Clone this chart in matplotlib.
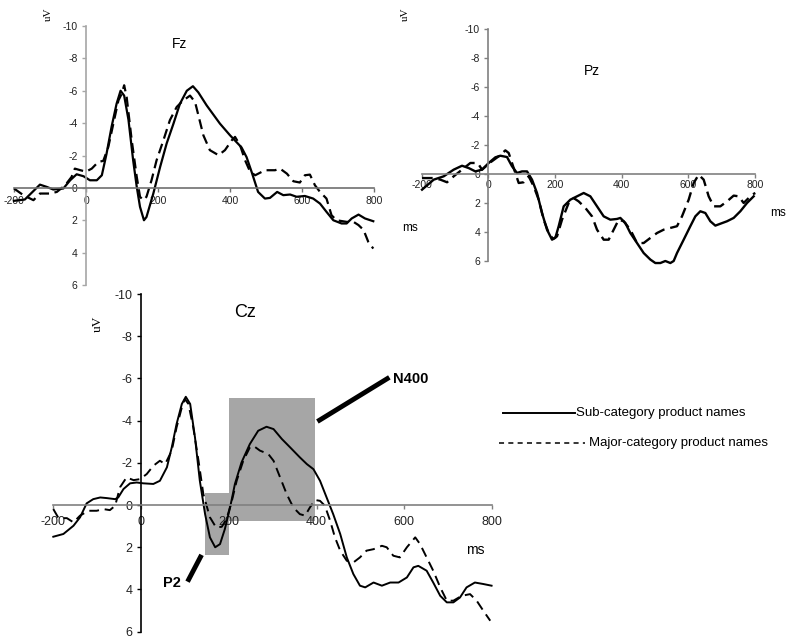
import matplotlib
matplotlib.use("Agg")
import matplotlib.pyplot as plt
from matplotlib.patches import Rectangle
from matplotlib.lines import Line2D

plt.rcParams['font.family'] = ['Liberation Sans', 'DejaVu Sans']

# ---- data (ms, uV) ----
fz_t_sub = [-200, -170, -128, -109, -91, -63, -44, -26, -7, 11, 30, 44, 57, 71, 85, 96, 106, 118, 131, 141,
            150, 161, 168, 187, 206, 224, 243, 261, 280, 297, 312, 335, 372, 400, 432, 446, 460, 478, 497, 511,
            531, 548, 567, 585, 608, 631, 650, 668, 687, 710, 724, 738, 757, 775, 798]
fz_sub = [0.8, 0.72, -0.2, -0.06, 0.1, 0.04, -0.47, -0.84, -0.72, -0.47, -0.47, -0.78, -2.1, -3.77, -5.2, -6.0,
          -5.7, -4.2, -1.7, -0.06, 1.17, 2.0, 1.8, 0.35, -1.3, -2.74, -3.97, -5.2, -6.0, -6.28, -5.9, -5.1, -3.97,
          -3.25, -2.5, -1.9, -0.99, 0.25, 0.66, 0.62, 0.25, 0.45, 0.41, 0.55, 0.5, 0.66, 0.97, 1.48, 2.0, 2.2, 2.2,
          1.89, 1.65, 1.89, 2.06]
fz_t_major = [-200, -174, -146, -128, -100, -81, -58, -40, -31, -17, 0, 16, 34, 48, 62, 76, 90, 99, 106, 113,
              127, 141, 150, 159, 168, 182, 196, 215, 233, 252, 270, 289, 303, 326, 344, 368, 386, 405, 414, 428,
              442, 456, 470, 497, 525, 539, 558, 576, 594, 608, 622, 636, 650, 668, 682, 696, 724, 743, 757, 771,
              784, 798]
fz_major = [0.04, 0.45, 0.76, 0.35, 0.35, 0.25, -0.16, -0.68, -1.19, -1.1, -1.0, -1.19, -1.6, -1.67, -2.53,
            -3.97, -5.4, -5.8, -6.34, -5.6, -2.94, -0.68, 0.55, 0.76, 0.55, -0.47, -1.7, -2.94, -4.18, -5.0, -5.4,
            -5.7, -5.3, -3.25, -2.33, -2.02, -2.33, -2.94, -3.15, -2.63, -1.7, -0.99, -0.78, -1.09, -1.09, -1.19,
            -0.88, -0.41, -0.33, -0.78, -0.82, -0.16, 0.25, 0.66, 1.69, 2.0, 2.1, 2.1, 2.3, 2.6, 3.33, 3.75]

pz_t_sub = [-199, -164, -134, -104, -79, -59, -39, -19, 1, 21, 36, 56, 71, 86, 101, 116, 131, 146, 161, 176,
            191, 201, 211, 226, 246, 266, 286, 306, 326, 346, 366, 386, 396, 411, 426, 446, 466, 486, 501, 516,
            531, 546, 556, 566, 586, 606, 621, 636, 651, 666, 681, 696, 716, 736, 756, 776, 796]
pz_sub = [1.08, 0.39, 0.16, -0.3, -0.57, -0.41, -0.18, -0.3, -0.76, -1.15, -1.26, -1.17, -0.53, -0.07, -0.18,
          -0.18, 0.39, 1.31, 2.69, 3.84, 4.53, 4.4, 3.6, 2.23, 1.77, 1.54, 1.31, 1.54, 2.23, 2.92, 3.15, 3.1, 3.03,
          3.38, 4.07, 4.76, 5.45, 5.9, 6.14, 6.14, 6.0, 6.14, 6.0, 5.45, 4.53, 3.6, 2.92, 2.57, 2.69, 3.26, 3.56,
          3.43, 3.26, 3.03, 2.57, 2.0, 1.54]
pz_t_major = [-199, -164, -144, -124, -104, -79, -54, -32, -19, 6, 31, 51, 61, 76, 91, 106, 121, 136, 151, 166,
              181, 194, 206, 221, 241, 256, 271, 291, 311, 326, 346, 361, 376, 391, 406, 426, 446, 466, 486, 506,
              526, 546, 566, 581, 601, 616, 631, 646, 661, 676, 696, 716, 736, 751, 766, 776, 791, 801]
pz_major = [0.28, 0.28, 0.39, 0.57, 0.16, -0.3, -0.76, -0.76, -0.3, -0.8, -1.22, -1.63, -1.45, -0.41, 0.62,
            0.57, 0.16, 0.85, 1.77, 3.15, 4.07, 4.48, 4.3, 3.15, 2.0, 1.66, 1.89, 2.34, 2.92, 3.84, 4.53, 4.53,
            3.84, 3.15, 3.26, 3.84, 4.76, 4.76, 4.41, 4.07, 3.84, 3.72, 3.6, 2.92, 1.77, 0.62, 0.05, 0.39, 1.54,
            2.23, 2.23, 1.89, 1.49, 1.54, 2.0, 1.77, 1.43, 1.31]

cz_t_sub = [-200, -177, -154, -139, -124, -109, -93, -78, -59, -52, -40, -25, -10, 5, 28, 43, 59, 70, 81, 93,
            102, 112, 123, 134, 146, 157, 169, 180, 191, 203, 214, 229, 248, 267, 286, 302, 321, 340, 362, 378,
            393, 408, 423, 438, 454, 469, 484, 499, 511, 530, 549, 568, 587, 606, 621, 632, 651, 666, 682, 697,
            712, 727, 742, 761, 780, 799]
cz_sub = [1.5, 1.37, 0.98, 0.58, -0.08, -0.28, -0.36, -0.33, -0.28, -0.36, -0.76, -1.03, -1.07, -1.03, -1.0,
          -1.15, -1.79, -2.73, -3.84, -4.79, -5.13, -4.79, -3.2, -1.15, 0.43, 1.53, 2.0, 1.85, 1.14, 0.11, -1.0,
          -2.02, -2.89, -3.52, -3.71, -3.6, -3.13, -2.73, -2.26, -1.94, -1.7, -1.15, -0.36, 0.43, 1.37, 2.48, 3.27,
          3.82, 3.9, 3.67, 3.82, 3.67, 3.67, 3.43, 2.95, 2.88, 3.11, 3.67, 4.3, 4.61, 4.61, 4.38, 3.9, 3.67, 3.74,
          3.82]
cz_t_major = [-200, -188, -169, -154, -139, -120, -101, -86, -71, -59, -48, -33, -17, -2, 13, 28, 43, 55, 70, 81,
              93, 100, 108, 119, 131, 142, 157, 171, 184, 195, 207, 218, 233, 248, 256, 271, 290, 302, 317, 332,
              347, 362, 374, 385, 397, 408, 419, 431, 442, 454, 469, 484, 499, 514, 530, 549, 560, 575, 590, 606,
              625, 636, 651, 666, 682, 697, 712, 731, 750, 765, 780, 796]
cz_major = [0.19, 0.62, 0.62, 0.82, 0.5, 0.27, 0.27, 0.19, 0.24, 0.03, -0.84, -1.31, -1.18, -1.23, -1.47, -1.86,
            -2.1, -1.94, -2.58, -3.68, -4.63, -5.02, -4.79, -3.68, -2.1, -0.52, 0.58, 1.06, 1.03, 0.66, -0.2, -1.15,
            -2.1, -2.73, -2.81, -2.58, -2.42, -2.1, -1.31, -0.52, 0.11, 0.43, 0.5, 0.11, -0.24, -0.2, 0.03, 0.74,
            1.53, 2.16, 2.64, 2.72, 2.48, 2.16, 2.09, 1.93, 2.0, 2.4, 2.48, 2.0, 1.53, 1.85, 2.48, 3.11, 3.9, 4.53,
            4.53, 4.3, 4.22, 4.53, 5.0, 5.48]

# analysis windows on Cz: (start ms, end ms, top uV, bottom uV)
p2_window = (145, 200, -0.55, 2.35)
n400_window = (200, 397, -5.05, 0.77)

x_ticks = [-200, 0, 200, 400, 600, 800]
y_ticks = [-10, -8, -6, -4, -2, 0, 2, 4, 6]

W, H = 786, 640
fig = plt.figure(figsize=(W / 100, H / 100), dpi=100)


def setup(ax, fs, xpad, left_col, bottom_col):
    ax.set_xlim(-200, 800)
    ax.set_ylim(6, -10)
    ax.patch.set_visible(False)
    for s in ['top', 'right']:
        ax.spines[s].set_visible(False)
    ax.spines['left'].set_position(('data', 0))
    ax.spines['bottom'].set_position(('data', 0))
    ax.spines['left'].set_color(left_col)
    ax.spines['bottom'].set_color(bottom_col)
    ax.spines['left'].set_linewidth(1.2)
    ax.spines['bottom'].set_linewidth(1.2)
    ax.spines['left'].set_zorder(5)
    ax.spines['bottom'].set_zorder(5)
    ax.set_xticks(x_ticks)
    ax.set_yticks(y_ticks)
    ax.set_xticklabels([str(v) for v in x_ticks])
    ax.set_yticklabels([str(v) for v in y_ticks])
    ax.tick_params(axis='y', direction='out', length=3, width=1, colors=left_col,
                   labelcolor='#222222', labelsize=fs, pad=3)
    ax.tick_params(axis='x', direction='out', length=3, width=1, colors=bottom_col,
                   labelcolor='#222222', labelsize=fs, pad=xpad)


# ---- Fz ----
ax1 = fig.add_axes([14 / W, 1 - 285 / H, 360 / W, 259 / H])
setup(ax1, 7.5, 3, '#a6a6a6', '#707070')
ax1.plot(fz_t_sub, fz_sub, color='black', lw=1.6, clip_on=False)
ax1.plot(fz_t_major, fz_major, color='black', lw=1.6, dashes=(4.5, 2.5), clip_on=False)
ax1.text(261, -8.9, 'Fz', fontsize=10, ha='center', va='center')
ax1.text(-105, -10.7, 'uV', fontsize=8, family='Liberation Serif', rotation=90,
         ha='center', va='center', clip_on=False)
ax1.text(900, 2.45, 'ms', fontsize=8.5, ha='center', va='center', clip_on=False)

# ---- Pz ----
ax2 = fig.add_axes([421.7 / W, 1 - 261 / H, 333.3 / W, 232 / H])
setup(ax2, 7.5, 1, '#808080', '#808080')
ax2.plot(pz_t_sub, pz_sub, color='black', lw=1.7, clip_on=False)
ax2.plot(pz_t_major, pz_major, color='black', lw=1.7, dashes=(4.5, 2.5), clip_on=False)
ax2.text(312, -7.1, 'Pz', fontsize=10, ha='center', va='center')
ax2.text(-249, -11.05, 'uV', fontsize=8, family='Liberation Serif', rotation=90,
         ha='center', va='center', clip_on=False)
ax2.text(868, 2.67, 'ms', fontsize=8.5, ha='center', va='center', clip_on=False)

# ---- Cz ----
ax3 = fig.add_axes([53.3 / W, 1 - 631.7 / H, 438.7 / W, 337.7 / H])
setup(ax3, 9, 5, 'black', '#808080')
for x0, x1, top, bot in [p2_window, n400_window]:
    ax3.add_patch(Rectangle((x0, top), x1 - x0, bot - top, facecolor='#a6a6a6',
                            edgecolor='none', zorder=1))
ax3.plot(cz_t_sub, cz_sub, color='black', lw=1.4, zorder=3, clip_on=False)
ax3.plot(cz_t_major, cz_major, color='black', lw=1.4, dashes=(5, 3), zorder=3, clip_on=False)
ax3.text(237, -9.1, 'Cz', fontsize=13, ha='center', va='center')
ax3.text(-98, -8.6, 'uV', fontsize=9.5, family='Liberation Serif', rotation=90,
         ha='center', va='center', clip_on=False)
ax3.text(761, 2.12, 'ms', fontsize=10, ha='center', va='center', clip_on=False)

# component labels
ax3.plot([402, 566], [-3.96, -6.05], color='black', lw=3.5, solid_capstyle='butt', clip_on=False)
ax3.text(574, -5.95, 'N400', fontsize=10.5, fontweight='bold', ha='left', va='center', clip_on=False)
ax3.plot([138, 106], [2.36, 3.63], color='black', lw=3.5, solid_capstyle='butt', clip_on=False)
ax3.text(90, 3.67, 'P2', fontsize=10.5, fontweight='bold', ha='right', va='center', clip_on=False)

# ---- legend ----
fig.add_artist(Line2D([502.7 / W, 575 / W], [1 - 412.7 / H] * 2, color='black', lw=1.4,
                      transform=fig.transFigure))
fig.text(576 / W, 1 - 412.7 / H, 'Sub-category product names', fontsize=9.5, ha='left', va='center')
fig.add_artist(Line2D([499 / W, 585 / W], [1 - 442.7 / H] * 2, color='black', lw=1.1,
                      dashes=(3.3, 2.8), transform=fig.transFigure))
fig.text(589 / W, 1 - 442.7 / H, 'Major-category product names', fontsize=9.5, ha='left', va='center')

fig.savefig('out.png', dpi=100)
